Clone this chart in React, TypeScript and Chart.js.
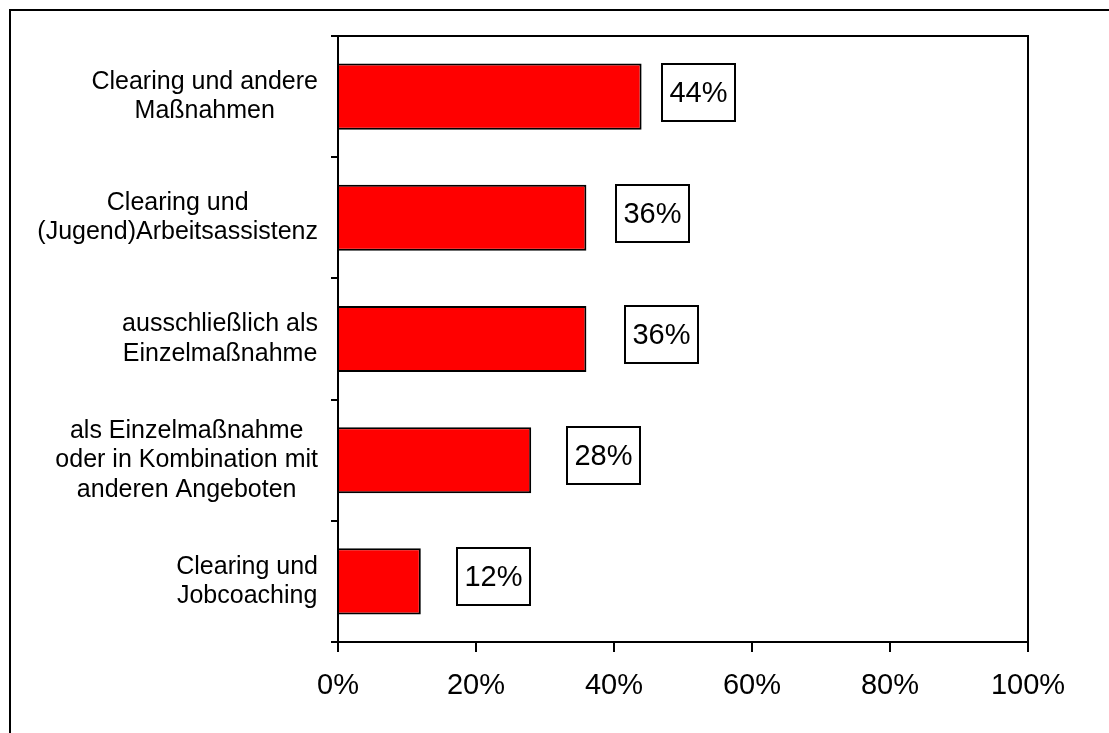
import React, { useEffect, useRef } from "react";
import { Chart, registerables } from "chart.js";

Chart.register(...registerables);

// ---- data ----
const categories: string[][] = [
  ["Clearing und andere", "Maßnahmen"],
  ["Clearing und", "(Jugend)Arbeitsassistenz"],
  ["ausschließlich als", "Einzelmaßnahme"],
  ["als Einzelmaßnahme", "oder in Kombination mit", "anderen Angeboten"],
  ["Clearing und", "Jobcoaching"],
];
const values: number[] = [44, 36, 36, 28, 12];
const valueLabels: string[] = values.map((v) => `${v}%`);
const xTickValues: number[] = [0, 20, 40, 60, 80, 100];

// ---- style / layout config ----
const FONT = "Arial, 'Liberation Sans', Helvetica, sans-serif";
const W = 1109;
const H = 733;
// horizontal distance (px) between the bar end and its label box, as placed in the original
const labelGapPx: number[] = [20, 30, 39, 36, 36];

const categoryLabelPlugin = {
  id: "categoryLabels",
  afterDraw(chart: any) {
    const ctx = chart.ctx as CanvasRenderingContext2D;
    const yScale = chart.scales.y;
    const right = chart.chartArea.left - 20;
    ctx.save();
    ctx.font = `25px ${FONT}`;
    ctx.fillStyle = "#000";
    ctx.textAlign = "center";
    ctx.textBaseline = "middle";
    const lh = 29.5;
    categories.forEach((lines, i) => {
      const cy = yScale.getPixelForValue(i);
      const w = Math.max(...lines.map((l) => ctx.measureText(l).width));
      const cx = right - w / 2;
      lines.forEach((l, j) => {
        ctx.fillText(l, cx, cy + (j - (lines.length - 1) / 2) * lh);
      });
    });
    ctx.restore();
  },
};

const frameAndLabelsPlugin = {
  id: "frameAndLabels",
  afterDatasetsDraw(chart: any) {
    const ctx = chart.ctx as CanvasRenderingContext2D;
    const meta = chart.getDatasetMeta(0);
    ctx.save();
    ctx.font = `29px ${FONT}`;
    meta.data.forEach((bar: any, i: number) => {
      const text = valueLabels[i];
      const tw = ctx.measureText(text).width;
      const bw = Math.round(tw + 15);
      const bh = 57;
      const left = Math.round(bar.x + labelGapPx[i]);
      const top = Math.round(bar.y - 4.5 - bh / 2);
      ctx.fillStyle = "#fff";
      ctx.fillRect(left, top, bw, bh);
      ctx.lineWidth = 2;
      ctx.strokeStyle = "#000";
      ctx.strokeRect(left, top, bw, bh);
      ctx.fillStyle = "#000";
      ctx.textAlign = "center";
      ctx.textBaseline = "middle";
      ctx.fillText(text, left + bw / 2, top + bh / 2 + 1);
    });
    ctx.restore();
  },
  afterDraw(chart: any) {
    const ctx = chart.ctx as CanvasRenderingContext2D;
    const a = chart.chartArea;
    ctx.save();
    ctx.strokeStyle = "#000";
    ctx.lineWidth = 2;
    ctx.beginPath();
    ctx.moveTo(a.left, a.top);
    ctx.lineTo(a.right, a.top);
    ctx.lineTo(a.right, a.bottom);
    ctx.stroke();
    ctx.restore();
  },
};

export default function App() {
  const ref = useRef<HTMLCanvasElement | null>(null);

  useEffect(() => {
    if (!ref.current) return;
    const chart = new Chart(ref.current, {
      type: "bar",
      data: {
        labels: categories.map((c) => c.join(" ")),
        datasets: [
          {
            data: values,
            backgroundColor: "#FF0000",
            borderColor: "#000",
            borderWidth: 2,
            borderSkipped: "start",
            barPercentage: 0.545,
            categoryPercentage: 1,
          },
        ],
      },
      options: {
        indexAxis: "y",
        responsive: false,
        animation: false,
        devicePixelRatio: 1,
        layout: { padding: { top: 36, right: 81, left: 0, bottom: 0 } },
        plugins: {
          legend: { display: false },
          tooltip: { enabled: false },
          title: { display: false },
        },
        scales: {
          x: {
            type: "linear",
            position: "bottom",
            min: 0,
            max: 100,
            afterBuildTicks: (scale: any) => {
              scale.ticks = xTickValues.map((v) => ({ value: v }));
            },
            ticks: {
              callback: (v: any) => `${v}%`,
              color: "#000",
              font: { family: FONT, size: 29 },
              padding: 17,
              maxRotation: 0,
            },
            grid: {
              drawOnChartArea: false,
              drawTicks: true,
              tickLength: 10,
              color: "#000",
              lineWidth: 2,
            },
            border: { display: true, color: "#000", width: 2 },
            afterFit: (scale: any) => {
              scale.height = 91;
            },
          },
          y: {
            type: "category",
            position: "left",
            ticks: { display: false },
            grid: {
              offset: true,
              drawOnChartArea: false,
              drawTicks: true,
              tickLength: 7,
              color: "#000",
              lineWidth: 2,
            },
            border: { display: true, color: "#000", width: 2 },
            afterFit: (scale: any) => {
              scale.width = 338;
            },
          },
        },
      },
      plugins: [categoryLabelPlugin, frameAndLabelsPlugin],
    } as any);
    return () => chart.destroy();
  }, []);

  return (
    <div
      style={{
        position: "fixed",
        left: 0,
        top: 0,
        width: W,
        height: H,
        overflow: "hidden",
        background: "#fff",
      }}
    >
      <div
        style={{
          position: "absolute",
          left: 9,
          top: 9,
          width: 1300,
          height: 900,
          border: "2px solid #000",
        }}
      />
      <canvas
        ref={ref}
        width={W}
        height={H}
        style={{ position: "absolute", left: 0, top: 0, width: W, height: H }}
      />
    </div>
  );
}
